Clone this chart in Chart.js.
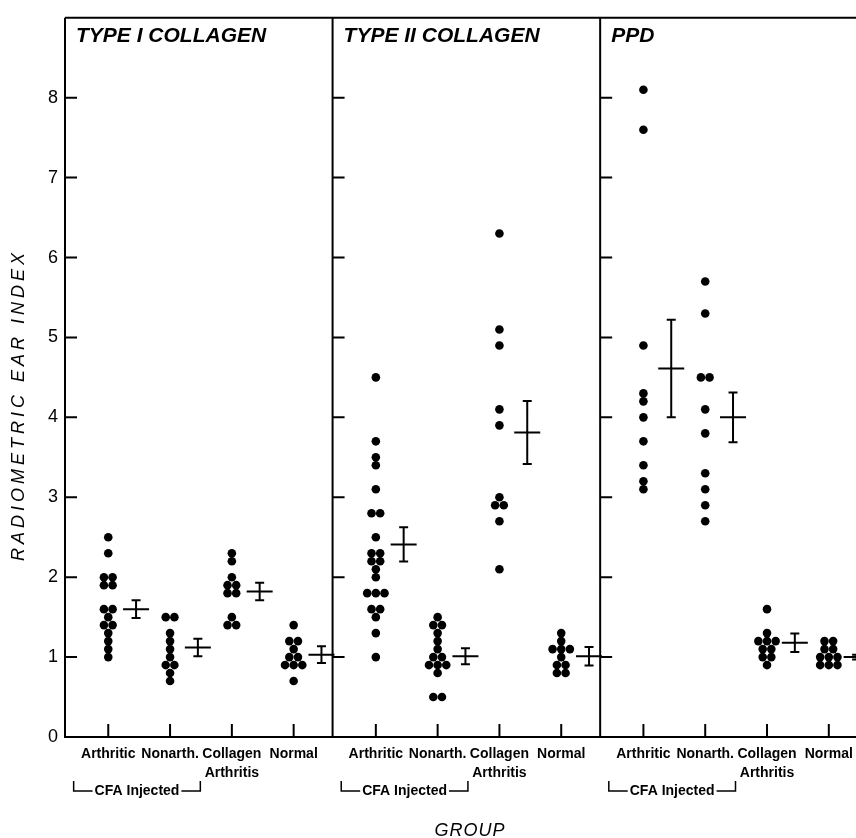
<!DOCTYPE html>
<html>
<head>
<meta charset="utf-8">
<script src="https://cdn.jsdelivr.net/npm/chart.js@4.4.1/dist/chart.umd.min.js"></script>
<style>
    html, body { margin: 0; padding: 0; background: #fff; overflow: hidden; }
    #wrap { position: relative; width: 856px; height: 838px; }
</style>
</head>
<body>
<div id="wrap"><canvas id="earChart"></canvas></div>
<script>
// Panels, groups and axis texts
const panelTitles = ['TYPE I COLLAGEN', 'TYPE II COLLAGEN', 'PPD'];
const groupLabels = ['Arthritic', 'Nonarth.', ['Collagen', 'Arthritis'], 'Normal'];
const bracketLabel = 'CFA Injected';
const xTitle = 'GROUP';
const yTitle = 'RADIOMETRIC EAR INDEX';

// Individual animals (one list per group)
const typeIValues = [
    [2.5, 2.3, 2.0, 2.0, 1.9, 1.9, 1.6, 1.6, 1.5, 1.4, 1.4, 1.3, 1.2, 1.1, 1.0],
    [1.5, 1.5, 1.3, 1.2, 1.1, 1.0, 0.9, 0.9, 0.8, 0.7],
    [2.3, 2.2, 2.0, 1.9, 1.9, 1.8, 1.8, 1.5, 1.4, 1.4],
    [1.4, 1.2, 1.2, 1.1, 1.0, 1.0, 0.9, 0.9, 0.9, 0.7]
];
const typeIIValues = [
    [4.5, 3.7, 3.5, 3.4, 3.1, 2.8, 2.8, 2.5, 2.3, 2.3, 2.2, 2.2, 2.1, 2.0, 1.8, 1.8, 1.8, 1.6, 1.6, 1.5, 1.3, 1.0],
    [1.5, 1.4, 1.4, 1.3, 1.2, 1.1, 1.0, 1.0, 0.9, 0.9, 0.9, 0.8, 0.5, 0.5],
    [6.3, 5.1, 4.9, 4.1, 3.9, 3.0, 2.9, 2.9, 2.7, 2.1],
    [1.3, 1.2, 1.1, 1.1, 1.1, 1.0, 0.9, 0.9, 0.8, 0.8]
];
const ppdValues = [
    [8.1, 7.6, 4.9, 4.3, 4.2, 4.0, 3.7, 3.4, 3.2, 3.1],
    [5.7, 5.3, 4.5, 4.5, 4.1, 3.8, 3.3, 3.1, 2.9, 2.7],
    [1.6, 1.3, 1.2, 1.2, 1.2, 1.1, 1.1, 1.0, 1.0, 0.9],
    [1.2, 1.2, 1.1, 1.1, 1.0, 1.0, 1.0, 0.9, 0.9, 0.9]
];

// Group mean and standard error
const typeIMeans = [1.60, 1.12, 1.82, 1.03];
const typeISE = [0.11, 0.11, 0.11, 0.105];
const typeIIMeans = [2.41, 1.01, 3.81, 1.01];
const typeIISE = [0.215, 0.10, 0.395, 0.115];
const ppdMeans = [4.61, 4.00, 1.18, 1.00];
const ppdSE = [0.61, 0.31, 0.115, 0.03];

const allValues = [typeIValues, typeIIValues, ppdValues];
const allMeans = [typeIMeans, typeIIMeans, ppdMeans];
const allSE = [typeISE, typeIISE, ppdSE];

// x is one linear axis; 1 unit = distance between two groups
const PANEL_W = 4.33;
const FIRST = 0.7;
const ERR_SHIFT = 0.45;
const DOT_STEP = 0.14;
const X_MAX = 12.8;

const plainFont = "'Liberation Sans', Arial, sans-serif";

function groupX(p, g) {
    return p * PANEL_W + FIRST + g;
}

// spread equal values side by side
function swarm(values, cx) {
    const counts = {};
    values.forEach(v => counts[v] = (counts[v] || 0) + 1);
    const seen = {};
    return values.map(v => {
        const k = seen[v] || 0;
        seen[v] = k + 1;
        return { x: cx + (k - (counts[v] - 1) / 2) * DOT_STEP, y: v };
    });
}

const datasets = panelTitles.map((title, p) => ({
    label: title,
    data: allValues[p].flatMap((vals, g) => swarm(vals, groupX(p, g))),
    backgroundColor: '#000',
    borderWidth: 0,
    pointRadius: 4.3,
    pointHoverRadius: 4.3
}));

const tickPositions = [];
panelTitles.forEach((t, p) => groupLabels.forEach((l, g) => tickPositions.push(groupX(p, g))));

const decorations = {
    id: 'decorations',
    beforeDatasetsDraw(chart) {
        const { ctx, chartArea: a, scales: { x, y } } = chart;
        ctx.save();
        ctx.strokeStyle = '#000';
        ctx.fillStyle = '#000';
        ctx.lineWidth = 2;
        ctx.beginPath();
        ctx.moveTo(a.left, a.top);
        ctx.lineTo(a.right, a.top);
        ctx.moveTo(a.left, a.bottom);
        ctx.lineTo(a.right, a.bottom);
        for (let p = 0; p < panelTitles.length; p++) {
            const bx = x.getPixelForValue(p * PANEL_W);
            ctx.moveTo(bx, a.top);
            ctx.lineTo(bx, a.bottom + 1);
            y.ticks.forEach(t => {
                if (t.value === 0) return;
                const py = y.getPixelForValue(t.value);
                ctx.moveTo(bx, py);
                ctx.lineTo(bx + 12, py);
            });
        }
        tickPositions.forEach(v => {
            const px = x.getPixelForValue(v);
            ctx.moveTo(px, a.bottom);
            ctx.lineTo(px, a.bottom - 13);
        });
        ctx.stroke();

        // panel titles
        ctx.font = 'italic bold 21px ' + plainFont;
        ctx.textBaseline = 'alphabetic';
        ctx.textAlign = 'left';
        panelTitles.forEach((title, p) => {
            ctx.fillText(title, x.getPixelForValue(p * PANEL_W) + 11, 42);
        });

        // CFA injected brackets
        ctx.font = 'bold 14px ' + plainFont;
        ctx.textAlign = 'center';
        ctx.textBaseline = 'middle';
        ctx.lineWidth = 1.5;
        const by = a.bottom + 54;
        const tw = ctx.measureText(bracketLabel).width;
        for (let p = 0; p < panelTitles.length; p++) {
            const lx = x.getPixelForValue(groupX(p, 0) - 0.56);
            const rx = x.getPixelForValue(groupX(p, 1) + 0.49);
            const cx = (lx + rx) / 2;
            ctx.beginPath();
            ctx.moveTo(lx, by - 10);
            ctx.lineTo(lx, by);
            ctx.lineTo(cx - tw / 2 - 2, by);
            ctx.moveTo(cx + tw / 2 + 2, by);
            ctx.lineTo(rx, by);
            ctx.lineTo(rx, by - 10);
            ctx.stroke();
            ctx.fillText(bracketLabel, cx, by);
        }

        // axis titles
        ctx.font = 'italic 18px ' + plainFont;
        ctx.letterSpacing = '1px';
        ctx.fillText(xTitle, 470, 831);
        ctx.translate(19, 405);
        ctx.rotate(-Math.PI / 2);
        ctx.letterSpacing = '4px';
        ctx.fillText(yTitle, 0, 0);
        ctx.restore();
    },
    afterDatasetsDraw(chart) {
        const { ctx, scales: { x, y } } = chart;
        ctx.save();
        ctx.strokeStyle = '#000';
        ctx.lineWidth = 2;
        ctx.beginPath();
        allMeans.forEach((means, p) => {
            means.forEach((m, g) => {
                const cx = x.getPixelForValue(groupX(p, g) + ERR_SHIFT);
                const my = y.getPixelForValue(m);
                const hy = y.getPixelForValue(m + allSE[p][g]);
                const ly = y.getPixelForValue(m - allSE[p][g]);
                ctx.moveTo(cx - 13, my);
                ctx.lineTo(cx + 13, my);
                ctx.moveTo(cx, hy);
                ctx.lineTo(cx, ly);
                ctx.moveTo(cx - 4.5, hy);
                ctx.lineTo(cx + 4.5, hy);
                ctx.moveTo(cx - 4.5, ly);
                ctx.lineTo(cx + 4.5, ly);
            });
        });
        ctx.stroke();
        ctx.restore();
    }
};

Chart.defaults.color = '#000';

new Chart(document.getElementById('earChart'), {
    type: 'scatter',
    data: { datasets: datasets },
    plugins: [decorations],
    options: {
        responsive: true,
        maintainAspectRatio: false,
        animation: false,
        layout: {
            autoPadding: false,
            padding: { top: 10, left: 0, right: 0, bottom: 0 }
        },
        plugins: {
            legend: { display: false },
            tooltip: { enabled: false }
        },
        scales: {
            x: {
                type: 'linear',
                min: 0,
                max: X_MAX,
                grid: { display: false, drawTicks: false },
                border: { display: false },
                afterBuildTicks: (scale) => {
                    scale.ticks = tickPositions.map(v => ({ value: v }));
                },
                afterFit: (scale) => {
                    scale.height = 101;
                    scale.paddingLeft = 0;
                    scale.paddingRight = 0;
                },
                ticks: {
                    autoSkip: false,
                    maxRotation: 0,
                    minRotation: 0,
                    padding: 8,
                    font: { family: plainFont, size: 14, weight: 'bold', lineHeight: 1.35 },
                    callback: (value, index) => groupLabels[index % groupLabels.length]
                }
            },
            y: {
                min: 0,
                max: 9,
                grid: { display: false, drawTicks: false },
                border: { display: false },
                afterBuildTicks: (scale) => {
                    scale.ticks = scale.ticks.filter(t => t.value <= 8);
                },
                afterFit: (scale) => { scale.width = 65; },
                ticks: {
                    stepSize: 1,
                    padding: 7,
                    font: { family: plainFont, size: 18 }
                }
            }
        }
    }
});
</script>
</body>
</html>
